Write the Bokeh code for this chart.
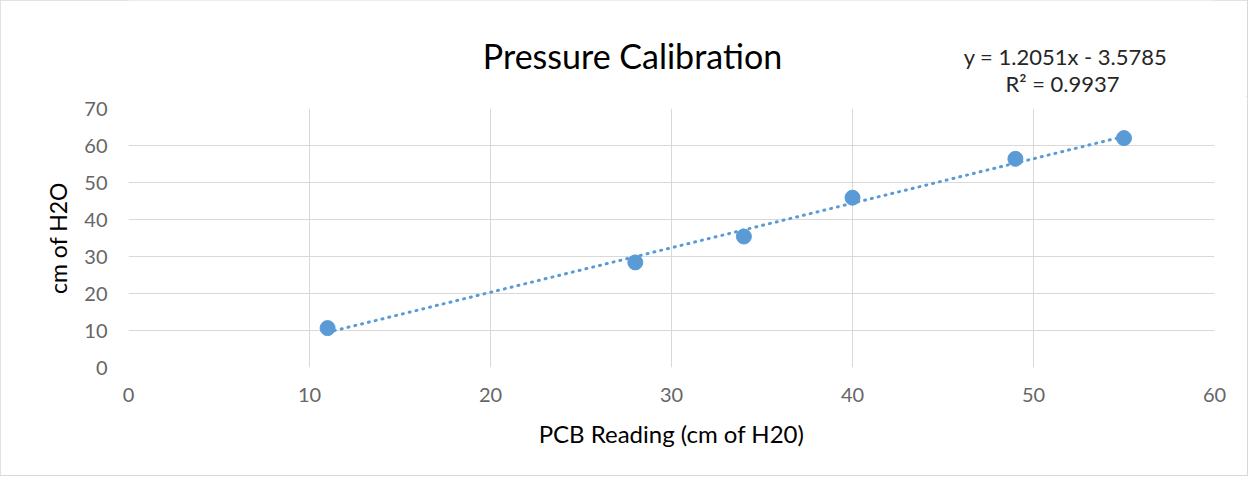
import numpy as np
from bokeh.plotting import figure
from bokeh.layouts import column
from bokeh.models import Label, Range1d, FixedTicker
from bokeh.embed import file_html
from bokeh.resources import INLINE

# Data
pcb_reading = [11, 28, 34, 40, 49, 55]
cm_h2o = [10.65, 28.4, 35.4, 45.9, 56.4, 62.0]
x_ticks = [0, 10, 20, 30, 40, 50, 60]
y_ticks = [0, 10, 20, 30, 40, 50, 60, 70]
title_text = "Pressure Calibration"
eq_text = "y = 1.2051x - 3.5785"
r2_text = "R² = 0.9937"
x_title = "PCB Reading (cm of H20)"
y_title = "cm of H2O"

FONT = "Lato"
BLUE = "#5b9bd5"
GRID = "#d9d9d9"
W, H_TOP, H_MAIN = 1247, 96, 379
LEFT, RIGHT = 128, 33

# --- header strip (title + trendline equation), pixel coordinates ---
top = figure(width=W, height=H_TOP, output_backend="svg", toolbar_location=None,
             x_range=Range1d(LEFT, W - RIGHT), y_range=Range1d(H_TOP, 0),
             min_border_left=LEFT, min_border_right=RIGHT,
             min_border_top=0, min_border_bottom=0)
top.axis.visible = False
top.grid.visible = False
top.outline_line_color = None
top.add_layout(Label(x=632, y=55, text=title_text, text_align="center", text_baseline="middle",
                     text_font=FONT, text_font_size="34px", text_color="#000000"))
top.add_layout(Label(x=1065, y=56, text=eq_text, text_align="center", text_baseline="middle",
                     text_font=FONT, text_font_size="22px", text_color="#262626"))
top.add_layout(Label(x=1062, y=82.5, text=r2_text, text_align="center", text_baseline="middle",
                     text_font=FONT, text_font_size="22px", text_color="#262626"))

# --- main chart ---
p = figure(width=W, height=H_MAIN, output_backend="svg", toolbar_location=None,
           x_range=Range1d(0, 60), y_range=Range1d(0, 70),
           min_border_left=LEFT, min_border_right=RIGHT, min_border_top=12, min_border_bottom=108)
p.outline_line_color = None

for ax, ticks in ((p.xaxis, x_ticks), (p.yaxis, y_ticks)):
    ax.ticker = FixedTicker(ticks=ticks)
    ax.major_tick_line_color = None
    ax.minor_tick_line_color = None
    ax.axis_line_color = None
    ax.major_label_text_font = FONT
    ax.major_label_text_font_size = "20px"
    ax.major_label_text_color = "#666666"
    ax.axis_label_text_font = FONT
    ax.axis_label_text_font_style = "normal"
    ax.axis_label_text_color = "#000000"

p.xaxis.axis_label = x_title
p.yaxis.axis_label = y_title
p.xaxis.axis_label_text_font_size = "24px"
p.yaxis.axis_label_text_font_size = "23px"
p.xaxis.major_label_standoff = 14
p.xaxis.axis_label_standoff = 14
p.yaxis.major_label_standoff = 15
p.yaxis.axis_label_standoff = 9

p.xgrid.ticker = FixedTicker(ticks=x_ticks)
p.ygrid.ticker = FixedTicker(ticks=y_ticks)
p.grid.grid_line_color = GRID
p.grid.grid_line_width = 1

# linear trendline fitted to the data
coef = np.polyfit(pcb_reading, cm_h2o, 1)
tx = [min(pcb_reading), max(pcb_reading)]
ty = [coef[0] * v + coef[1] for v in tx]
p.line(tx, ty, line_color=BLUE, line_width=3, line_dash="1 6", line_cap="round")

p.scatter(pcb_reading, cm_h2o, size=15, fill_color=BLUE, line_color=BLUE)

layout = column(top, p, spacing=0)
layout.styles = {"outline": "2px solid #d9d9d9", "outline-offset": "-1px"}

open("out.html", "w").write(file_html(layout, INLINE))
